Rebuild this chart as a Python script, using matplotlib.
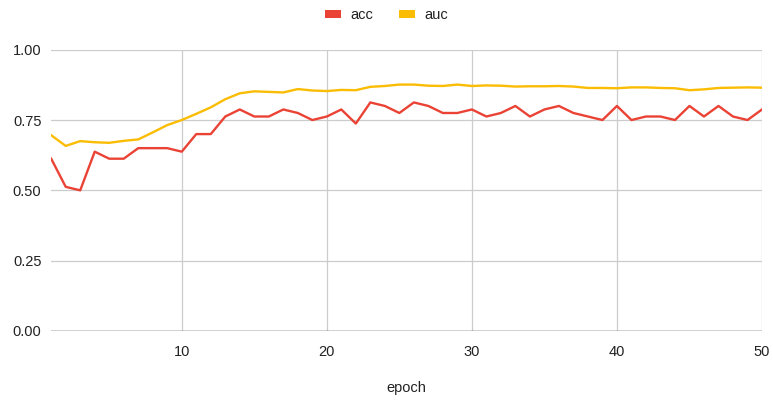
import matplotlib
matplotlib.use("Agg")
import matplotlib.pyplot as plt
from matplotlib.patches import Patch

epochs = list(range(1, 51))
acc = [0.6125, 0.5125, 0.5, 0.6375, 0.6125, 0.6125, 0.65, 0.65, 0.65, 0.6375,
       0.7, 0.7, 0.7625, 0.7875, 0.7625, 0.7625, 0.7875, 0.775, 0.75, 0.7625,
       0.7875, 0.7375, 0.8125, 0.8, 0.775, 0.8125, 0.8, 0.775, 0.775, 0.7875,
       0.7625, 0.775, 0.8, 0.7625, 0.7875, 0.8, 0.775, 0.7625, 0.75, 0.8,
       0.75, 0.7625, 0.7625, 0.75, 0.8, 0.7625, 0.8, 0.7625, 0.75, 0.7875]
auc = [0.696, 0.658, 0.675, 0.671, 0.669, 0.676, 0.681, 0.706, 0.732, 0.75,
       0.772, 0.795, 0.824, 0.845, 0.852, 0.850, 0.848, 0.860, 0.855, 0.853,
       0.857, 0.856, 0.868, 0.871, 0.876, 0.876, 0.872, 0.871, 0.876, 0.871,
       0.873, 0.872, 0.869, 0.870, 0.870, 0.871, 0.869, 0.864, 0.864, 0.863,
       0.866, 0.866, 0.864, 0.863, 0.856, 0.859, 0.864, 0.865, 0.866, 0.865]
x_ticks = [10, 20, 30, 40, 50]
y_ticks = [0.0, 0.25, 0.5, 0.75, 1.0]

RED = "#ea4335"
YELLOW = "#fbbc04"
GRID = "#cccccc"
TEXT = "#222222"

plt.rcParams["font.family"] = ["Liberation Sans", "DejaVu Sans"]

fig = plt.figure(figsize=(7.73, 4.05), dpi=100)
ax = fig.add_axes([51.2 / 773, 74 / 405, 710.8 / 773, 281.3 / 405])

ax.plot(epochs, acc, color=RED, lw=1.7, solid_joinstyle="round", zorder=3)
ax.plot(epochs, auc, color=YELLOW, lw=1.7, solid_joinstyle="round", zorder=3)

ax.set_xlim(1, 50)
ax.set_ylim(0, 1)
ax.set_xticks(x_ticks)
ax.set_yticks(y_ticks)
ax.set_yticklabels([f"{v:.2f}" for v in y_ticks])
ax.grid(True, color=GRID, lw=0.9, zorder=0)
ax.axhline(0, color="#333333", lw=1.0, zorder=2)

for s in ax.spines.values():
    s.set_visible(False)
ax.tick_params(length=0, labelsize=10.5, colors=TEXT, pad=7)
ax.tick_params(axis="x", pad=10)
ax.set_xlabel("epoch", fontsize=10.5, color=TEXT, labelpad=16)

handles = [Patch(facecolor=RED, edgecolor="none", label="acc"),
           Patch(facecolor=YELLOW, edgecolor="none", label="auc")]
fig.legend(handles=handles, loc="center", bbox_to_anchor=(0.5, 1 - 15 / 405),
           ncol=2, frameon=False, fontsize=10.5, handlelength=1.1, handleheight=0.45,
           handletextpad=0.6, columnspacing=1.8, labelcolor=TEXT)

fig.savefig("out.png", dpi=100, facecolor="white")
